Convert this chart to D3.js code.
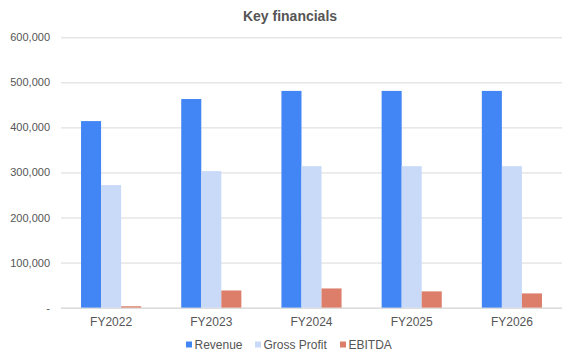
<!DOCTYPE html>
<html><head><meta charset="utf-8">
<script src="https://cdn.jsdelivr.net/npm/d3@7"></script>
<style>html,body{margin:0;padding:0;background:#fff;}svg{display:block;font-family:Arial,"Liberation Sans",sans-serif;}</style>
</head><body>
<svg id="chart" width="573" height="361"></svg>
<script>
const categories = ["FY2022","FY2023","FY2024","FY2025","FY2026"];
const seriesNames = ["Revenue","Gross Profit","EBITDA"];
const revenue = [414000, 463000, 481000, 481000, 481000];
const grossProfit = [272000, 303000, 314000, 314000, 314000];
const ebitda = [3000, 38000, 42500, 36000, 31500];
const yTicks = [0, 100000, 200000, 300000, 400000, 500000, 600000];
const colors = ["#4285F4", "#C9DAF8", "#DD7E6B"];

const seriesValues = [revenue, grossProfit, ebitda];
const svg = d3.select("#chart");
const m = {left: 61, right: 11, top: 37.3, bottom: 53};
const W = 573, H = 361;
const x0 = d3.scaleBand().domain(categories).range([m.left, W - m.right]).paddingInner(0.4).paddingOuter(0.2);
const x1 = d3.scaleBand().domain(seriesNames).range([0, x0.bandwidth()]);
const y = d3.scaleLinear().domain([0, 600000]).range([H - m.bottom - 0.4, m.top]);
const fmt = d => d === 0 ? "-" : d3.format(",")(d);

// title
svg.append("text").attr("x", 290).attr("y", 20.5).attr("text-anchor", "middle")
  .attr("font-size", 14).attr("font-weight", "bold").attr("fill", "#555").text("Key financials");

// grid + y axis
const ya = svg.append("g").attr("transform", `translate(${m.left},0)`)
  .call(d3.axisLeft(y).tickValues(yTicks).tickFormat(fmt).tickSize(-(W - m.left - m.right)).tickPadding(11));
ya.select(".domain").remove();
ya.selectAll(".tick line").attr("stroke", d => d === 0 ? "#c6c6c6" : "#d9d9d9").attr("stroke-width", 1);
ya.selectAll(".tick text").attr("font-size", 11).attr("fill", "#555").attr("font-family", "Arial, 'Liberation Sans', sans-serif");

// bars
const groups = svg.append("g").selectAll("g").data(categories).join("g")
  .attr("transform", d => `translate(${x0(d)},0)`);
groups.selectAll("rect").data((c, i) => seriesNames.map((s, j) => ({s, j, v: seriesValues[j][i]})))
  .join("rect")
  .attr("x", d => x1(d.s)).attr("width", x1.bandwidth())
  .attr("y", d => y(d.v)).attr("height", d => y(0) - y(d.v))
  .attr("fill", d => colors[d.j]);

// x axis labels
const xa = svg.append("g").attr("transform", `translate(0,${y(0)})`)
  .call(d3.axisBottom(x0).tickSize(0).tickPadding(10));
xa.select(".domain").remove();
xa.selectAll(".tick text").attr("font-size", 12).attr("fill", "#555").attr("font-family", "Arial, 'Liberation Sans', sans-serif");

// legend
const legendX = [186, 255, 340];
const lg = svg.append("g").selectAll("g").data(seriesNames).join("g")
  .attr("transform", (d, i) => `translate(${legendX[i]},345)`);
lg.append("rect").attr("x", 0).attr("y", -3.5).attr("width", 6).attr("height", 6).attr("fill", (d, i) => colors[i]);
lg.append("text").attr("x", 8.5).attr("y", 4).attr("font-size", 12).attr("fill", "#555").text(d => d);
</script>
</body></html>
